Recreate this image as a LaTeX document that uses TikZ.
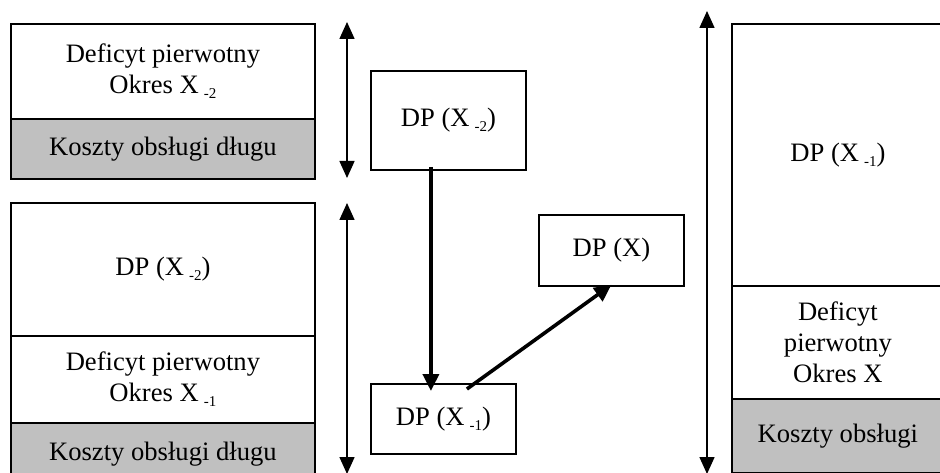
\documentclass[tikz,border=0pt]{standalone}
\usepackage{fontspec}
\setmainfont{Liberation Serif}
\usetikzlibrary{arrows.meta}
\definecolor{costgray}{HTML}{C0C0C0}
\newcommand\lowidx[1]{\hspace{5pt}\raisebox{-0.4ex}{\fontsize{15}{15}\selectfont #1}}
\begin{document}
\begin{tikzpicture}[x=1pt,y=-1pt,
  sect/.style={draw, line width=1.8pt, inner sep=0pt, anchor=north west, align=center,
    font=\fontsize{26.6}{31}\selectfont},
  grey/.style={fill=costgray},
  dbl/.style={line width=1.5pt, {Triangle[width=15pt,length=17pt]}-{Triangle[width=15pt,length=17pt]}},
  flow/.style={line width=3.6pt, -{Triangle[width=16pt,length=17pt]}}]
\clip (0,0) rectangle (940,473);
\fill[white] (0,0) rectangle (940,473);
% top-left stack
\node[sect, minimum width=304pt, minimum height=95pt] (a1) at (10,23) {Deficyt pierwotny\\Okres X\lowidx{-2}};
\node[sect, grey, minimum width=304pt, minimum height=60pt] (a2) at (10,118) {Koszty obsługi długu};
% lower-left stack
\node[sect, minimum width=304pt, minimum height=133pt] (b1) at (10,202) {DP (X\lowidx{-2})};
\node[sect, minimum width=304pt, minimum height=87pt] (b2) at (10,335) {Deficyt pierwotny\\Okres X\lowidx{-1}};
\node[sect, grey, minimum width=304pt, minimum height=62pt] (b3) at (10,422) {\raisebox{6pt}{Koszty obsługi długu}};
% middle boxes
\node[sect, minimum width=155pt, minimum height=99pt] (m1) at (370,70) {DP (X\lowidx{-2})};
\node[sect, minimum width=145pt, minimum height=71pt] (mx) at (538,214) {DP (X)};
\node[sect, minimum width=145pt, minimum height=70pt] (m2) at (370,383) {DP (X\lowidx{-1})};
% right stack
\node[sect, minimum width=212pt, minimum height=262pt] (r1) at (731,23) {DP (X\lowidx{-1})};
\node[sect, minimum width=212pt, minimum height=113pt] (r2) at (731,285) {Deficyt\\pierwotny\\Okres X};
\node[sect, grey, minimum width=212pt, minimum height=74pt] (r3) at (731,398) {Koszty obsługi};
% double arrows
\coordinate (d1t) at (347,22);
\coordinate (d1b) at (347,178);
\coordinate (d2t) at (347,203);
\coordinate (d2b) at (347,474);
\coordinate (d3t) at (707,11);
\coordinate (d3b) at (707,474);
\draw[dbl] (d1t) -- (d1b);
\draw[dbl] (d2t) -- (d2b);
\draw[dbl] (d3t) -- (d3b);
% flow arrows
\draw[flow] ([xshift=-17.5pt,yshift=4pt]m1.south) -- ([xshift=-12.5pt,yshift=-8pt]m2.north);
\draw[flow] ([xshift=23.5pt,yshift=-6pt]m2.north) -- ([yshift=2pt]mx.south);
\end{tikzpicture}
\end{document}
